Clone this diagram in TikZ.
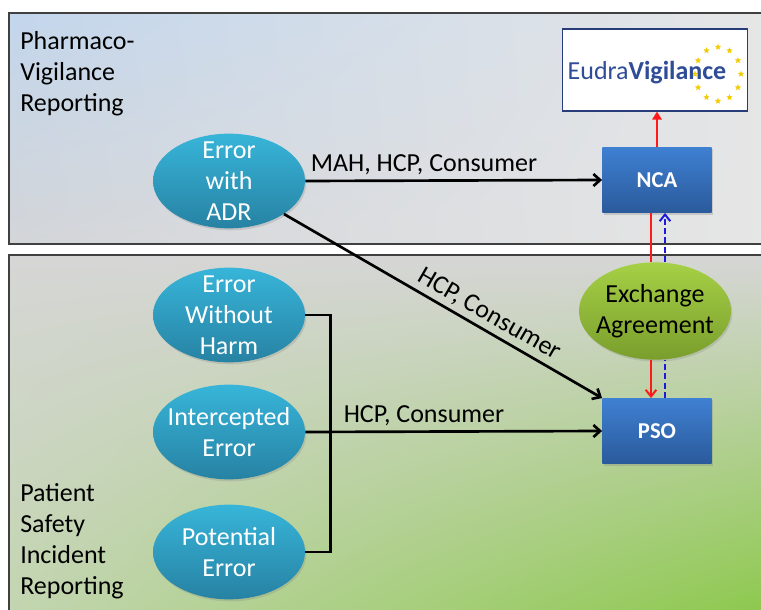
\documentclass[tikz,border=0pt]{standalone}
\usepackage{fontspec}
\setmainfont{Carlito}
\usetikzlibrary{calc,shapes.geometric,shadows,shadings,arrows.meta}
\definecolor{errtop}{HTML}{37B5D9}
\definecolor{errbot}{HTML}{2782A3}
\definecolor{boxtop}{HTML}{3F80D2}
\definecolor{boxbot}{HTML}{2A5A9B}
\definecolor{agrtop}{HTML}{A6D046}
\definecolor{agrbot}{HTML}{7A9E2C}
\definecolor{evblue}{HTML}{2F4C97}
\definecolor{evstar}{HTML}{F2CC00}
\definecolor{pvblue}{HTML}{C3D6EC}
\definecolor{pvgray}{HTML}{E6E6E6}
\definecolor{pvlow}{HTML}{D3D5D8}
\definecolor{psgray}{HTML}{D6D6D6}
\definecolor{pslow}{HTML}{C2D5AF}
\definecolor{psgreen}{HTML}{8AC847}
\definecolor{redline}{HTML}{FF1A1A}
\definecolor{blueline}{HTML}{1A1ADB}
\tikzset{
  panel/.style={draw=black!75, line width=1.2pt, drop shadow={opacity=0.3, shadow xshift=1pt, shadow yshift=-1pt}},
  paneltext/.style={align=left, inner sep=0pt},
  errell/.style={ellipse, minimum width=114pt, minimum height=71pt, inner sep=0pt, top color=errtop, bottom color=errbot, drop shadow={opacity=0.25, shadow xshift=1pt, shadow yshift=-1.5pt}, label={[align=center, text=white]center:#1}},
  agrell/.style={ellipse, minimum width=114pt, minimum height=73pt, inner sep=0pt, top color=agrtop, bottom color=agrbot, drop shadow={opacity=0.25, shadow xshift=1pt, shadow yshift=-1.5pt}, label={[align=center]center:#1}},
  orgbox/.style={rectangle, minimum width=82pt, minimum height=49pt, top color=boxtop, bottom color=boxbot, text=white, font=\fontsize{17}{20}\selectfont\bfseries, drop shadow={opacity=0.3, shadow xshift=1pt, shadow yshift=-1.5pt}},
  evbox/.style={rectangle, draw=evblue!80!black, line width=0.9pt, fill=white, minimum width=139pt, minimum height=61.5pt},
  evstarnode/.style={star, star points=5, star point ratio=2.3, fill=evstar, inner sep=0pt, minimum size=5pt},
  flow/.style={line width=2pt, -{Straight Barb[length=5pt, width=9pt]}},
  redflow/.style={line width=1.5pt, draw=redline},
  blueflow/.style={line width=1.5pt, draw=blueline, dash pattern=on 4.5pt off 2.5pt}
}

\begin{document}
\begin{tikzpicture}[x=0.75pt, y=-0.75pt, font=\fontsize{19.5}{23.25}\selectfont]
	%%%%% START %%%%%
	\clip (0,0) rectangle (761,610);
	\fill[white] (0,0) rectangle (761,610);
	
	% the two reporting areas
	\shadedraw[panel, upper left=pvblue, upper right=pvgray, lower left=pvlow, lower right=pvgray] (9,13) rectangle (775,244);
	\shadedraw[panel, upper left=psgray, upper right=psgray, lower left=pslow, lower right=psgreen] (9,255) rectangle (775,625);
	
	\node[paneltext, anchor=north west] (pvtitle) at (20,31) {Pharmaco-\\Vigilance\\Reporting};
	\node[paneltext, anchor=north west] (pstitle) at (20,483) {Patient\\Safety\\Incident\\Reporting};
	
	% errors
	\node[errell={Error\\with\\ADR}] (adr) at (229,181) {};
	\node[errell={Error\\Without\\Harm}] (noharm) at (229,315) {};
	\node[errell={Intercepted\\Error}] (intercept) at (229,432) {};
	\node[errell={Potential\\Error}] (potential) at (229,552) {};
	
	% receivers
	\node[orgbox] (nca) at (657,180) {NCA};
	\node[orgbox] (pso) at (657,431) {PSO};
	\node[agrell={Exchange\\Agreement}] (exch) at (655,311) {};
	
	% EudraVigilance logo
	\node[evbox] (eudra) at (655,70) {};
	\coordinate (evring) at (718,74);
	\foreach \a in {0,30,...,330}
		\node[evstarnode] (evs\a) at ($(evring)+({23*cos(\a)},{27*sin(\a)})$) {};
	\node[text=evblue, inner sep=0pt] (evtext) at (647,73) {Eudra\textbf{Vigilance}};
	
	% reporting routes
	\draw[flow] (adr.east) -- node[above, pos=0.4] (mahlbl) {MAH, HCP, Consumer} (nca.west);
	\draw[flow] (adr.-31) -- node[above, sloped, pos=0.62] (diaglbl) {HCP, Consumer} (pso.north west);
	\draw[flow] (intercept.east) -- node[above, pos=0.4] (hcplbl) {HCP, Consumer} (pso.west);
	\draw[line width=2pt] (noharm.east) -- ++(25,0) coordinate (brk) |- (potential.east);
	
	% exchange between NCA and PSO
	\coordinate (redx) at ([xshift=-4.5pt]nca.south);
	\coordinate (bluex) at ([xshift=6pt]nca.south);
	\draw[redflow, -{Triangle[length=6pt, width=7pt]}] (nca.north) -- (nca.north |- eudra.south);
	\draw[redflow] (redx) -- (redx |- exch.north);
	\draw[redflow, -{Straight Barb[length=5pt, width=8pt]}] (redx |- exch.south) -- (redx |- pso.north);
	\draw[blueflow] (bluex |- pso.north) -- (bluex |- exch.south);
	\draw[blueflow, -{Straight Barb[length=5pt, width=8pt]}] (bluex |- exch.north) -- (bluex);
	
	%%%%% END %%%%%
\end{tikzpicture}
\end{document}
